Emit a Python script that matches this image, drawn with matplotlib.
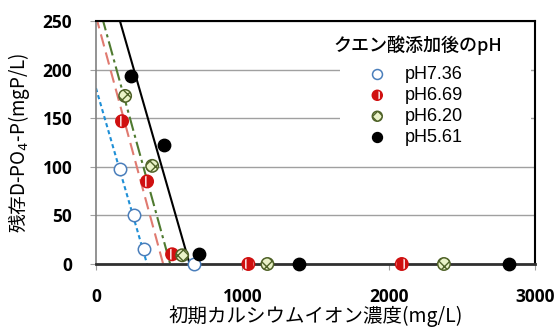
import matplotlib
matplotlib.use('Agg')
import matplotlib.pyplot as plt
from matplotlib.patches import Rectangle
from matplotlib.legend_handler import HandlerTuple

# Data
labels = ['pH7.36', 'pH6.69', 'pH6.20', 'pH5.61']

ca_736 = [164, 260, 329, 671]
p_736 = [98, 50, 15, 0]

ca_669 = [178, 349, 520, 1041, 2089]
p_669 = [147, 85, 10, 0, 0]

ca_620 = [199, 384, 589, 1171, 2377]
p_620 = [173, 101, 9, 0, 0]

ca_561 = [240, 466, 705, 1390, 2822]
p_561 = [193, 122, 10, 0, 0]

# Trend line end points (x, y)
line_736 = ([0, 349], [181, 0])
line_669 = ([0, 459], [255, 0])
line_620 = ([40, 507], [255, 0])
line_561 = ([164, 640], [250, 0])

xticks = [0, 1000, 2000, 3000]
yticks = [0, 50, 100, 150, 200, 250]

JP = ['Noto Sans CJK JP', 'DejaVu Sans']

fig = plt.figure(figsize=(5.58, 3.30), dpi=100)
ax = fig.add_axes([0.172, 0.2, 0.787, 0.736])

# Trend lines
ax.plot(*line_736, color='#1f8fd6', linestyle=(0, (2, 1.5)), linewidth=1.5, zorder=2)
ax.plot(*line_669, color='#e07a70', linestyle=(0, (6, 3)), linewidth=1.5, zorder=2)
ax.plot(*line_620, color='#4f7a30', linestyle=(0, (7, 2, 1.5, 2)), linewidth=1.5, zorder=2)
ax.plot(*line_561, color='black', linestyle='-', linewidth=1.5, zorder=2)

# Data points
s = 80
h1 = ax.scatter(ca_736, p_736, s=s, facecolor='white', edgecolor='#4a7ebb', linewidth=1.1,
                zorder=4, clip_on=False)
h2a = ax.scatter(ca_669, p_669, s=s, facecolor='#d01010', edgecolor='white', linewidth=0,
                 hatch='||', zorder=4, clip_on=False)
h2b = ax.scatter(ca_669, p_669, s=s, facecolor='none', edgecolor='#d01010', linewidth=1.1,
                 zorder=4, clip_on=False)
h3 = ax.scatter(ca_620, p_620, s=s, facecolor='#eaf2c8', edgecolor='#4f6228', linewidth=1.1,
                hatch='xxx', zorder=4, clip_on=False)
h4 = ax.scatter(ca_561, p_561, s=s, facecolor='black', edgecolor='black', linewidth=1.0,
                zorder=4, clip_on=False)

ax.set_xlim(0, 3000)
ax.set_ylim(0, 250)
ax.set_xticks(xticks)
ax.set_yticks(yticks)
ax.yaxis.grid(True, color='#a0a0a0', linewidth=1.0)
ax.set_axisbelow(True)

for side in ['top', 'right']:
    ax.spines[side].set_color('black')
    ax.spines[side].set_linewidth(1.5)
ax.spines['bottom'].set_color('#303030')
ax.spines['bottom'].set_linewidth(2.0)
ax.spines['left'].set_color('#808080')
ax.spines['left'].set_linewidth(1.2)

ax.tick_params(axis='both', labelsize=12.5, length=4, color='#a0a0a0', pad=13)
for t in ax.get_xticklabels() + ax.get_yticklabels():
    t.set_family(['Open Sans', 'DejaVu Sans'])
    t.set_fontweight('bold')

ax.set_xlabel('初期カルシウムイオン濃度(mg/L)', family=JP, fontsize=14, labelpad=0)
ax.set_ylabel('残存D-PO$_4$-P(mgP/L)', family=JP, fontsize=13.5, labelpad=8)

# White area behind the legend
ax.add_patch(Rectangle((0.556, 0.47), 0.434, 0.52, transform=ax.transAxes,
                       facecolor='white', edgecolor='none', zorder=1.5))

ax.text(0.732, 0.901, 'クエン酸添加後のpH', transform=ax.transAxes, family=JP,
        fontsize=13, fontweight='medium', ha='center', va='center', zorder=5)

leg = ax.legend([h1, (h2a, h2b), h3, h4], labels,
                handler_map={tuple: HandlerTuple(ndivide=1)},
                loc='upper left', bbox_to_anchor=(0.62, 0.815), frameon=False,
                borderpad=0, borderaxespad=0, labelspacing=0.22, handlelength=1.0,
                handletextpad=1.0, markerscale=0.8,
                prop={'family': ['Liberation Sans', 'DejaVu Sans'], 'size': 13})
leg.set_zorder(5)

fig.savefig('out.png', dpi=100)
